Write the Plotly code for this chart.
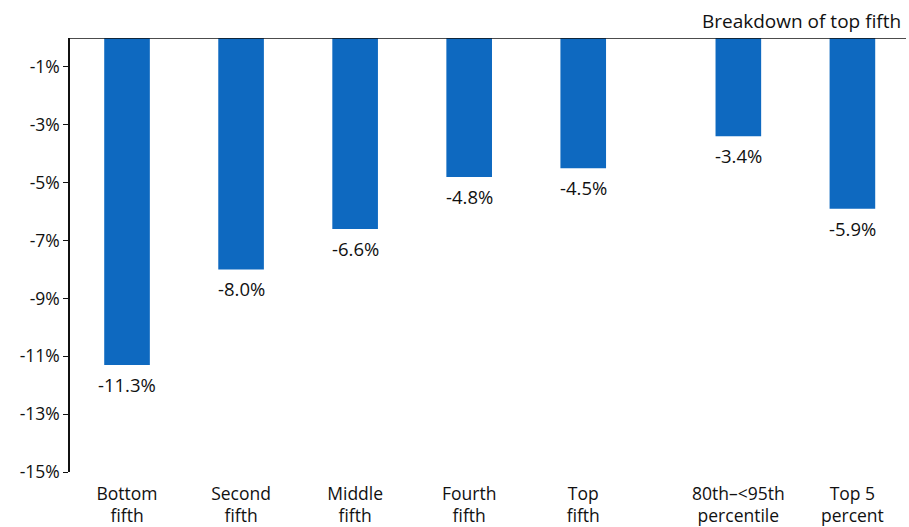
import plotly.graph_objects as go

# Change in after-tax income by income group
categories = ["Bottom<br>fifth", "Second<br>fifth", "Middle<br>fifth", "Fourth<br>fifth",
              "Top<br>fifth", "80th–<95th<br>percentile", "Top 5<br>percent"]
values = [-11.3, -8.0, -6.6, -4.8, -4.5, -3.4, -5.9]
y_ticks = [-1, -3, -5, -7, -9, -11, -13, -15]

# the top-fifth breakdown sits after a wider gap
positions = [0, 1, 2, 3, 4, 5.36, 6.36]

BLUE = "#0E69C0"
FONT = "Open Sans, Liberation Sans, sans-serif"

fig = go.Figure()
fig.add_trace(go.Bar(
    x=positions, y=values, width=0.4,
    marker=dict(color=BLUE, line=dict(width=0)),
))

# value labels under each bar
annotations = [
    dict(x=x, y=v, text=f"{v:.1f}%", xref="x", yref="y", showarrow=False,
         yanchor="top", yshift=-5, font=dict(size=18.5, color="#111"))
    for x, v in zip(positions, values)
]
annotations.append(dict(text="Breakdown of top fifth", xref="paper", yref="paper",
                        x=0.997, y=1.0, xanchor="right", yanchor="bottom", yshift=2,
                        showarrow=False, font=dict(size=19, color="#111")))

fig.update_layout(
    width=909, height=527,
    margin=dict(l=70, r=3, t=38, b=55),
    plot_bgcolor="white", paper_bgcolor="white",
    showlegend=False,
    font=dict(family=FONT, size=17, color="#111"),
    xaxis=dict(range=[-0.5, 6.83], tickvals=positions, ticktext=categories,
               showgrid=False, zeroline=False, showline=False, ticks="",
               automargin=False, ticklabelstandoff=9, tickfont=dict(size=17.5)),
    yaxis=dict(range=[-15, 0], tickvals=y_ticks,
               ticktext=[f"{t}%" for t in y_ticks],
               showgrid=False, zeroline=False, showline=True, linecolor="#111",
               linewidth=1.5, ticks="outside", ticklen=5, tickcolor="#111",
               automargin=False, tickfont=dict(size=17.5)),
    shapes=[dict(type="line", xref="paper", yref="y", x0=0, x1=1, y0=0, y1=0,
                 line=dict(color="#111", width=1.5))],
    annotations=annotations,
)

fig.write_html("out.html")
